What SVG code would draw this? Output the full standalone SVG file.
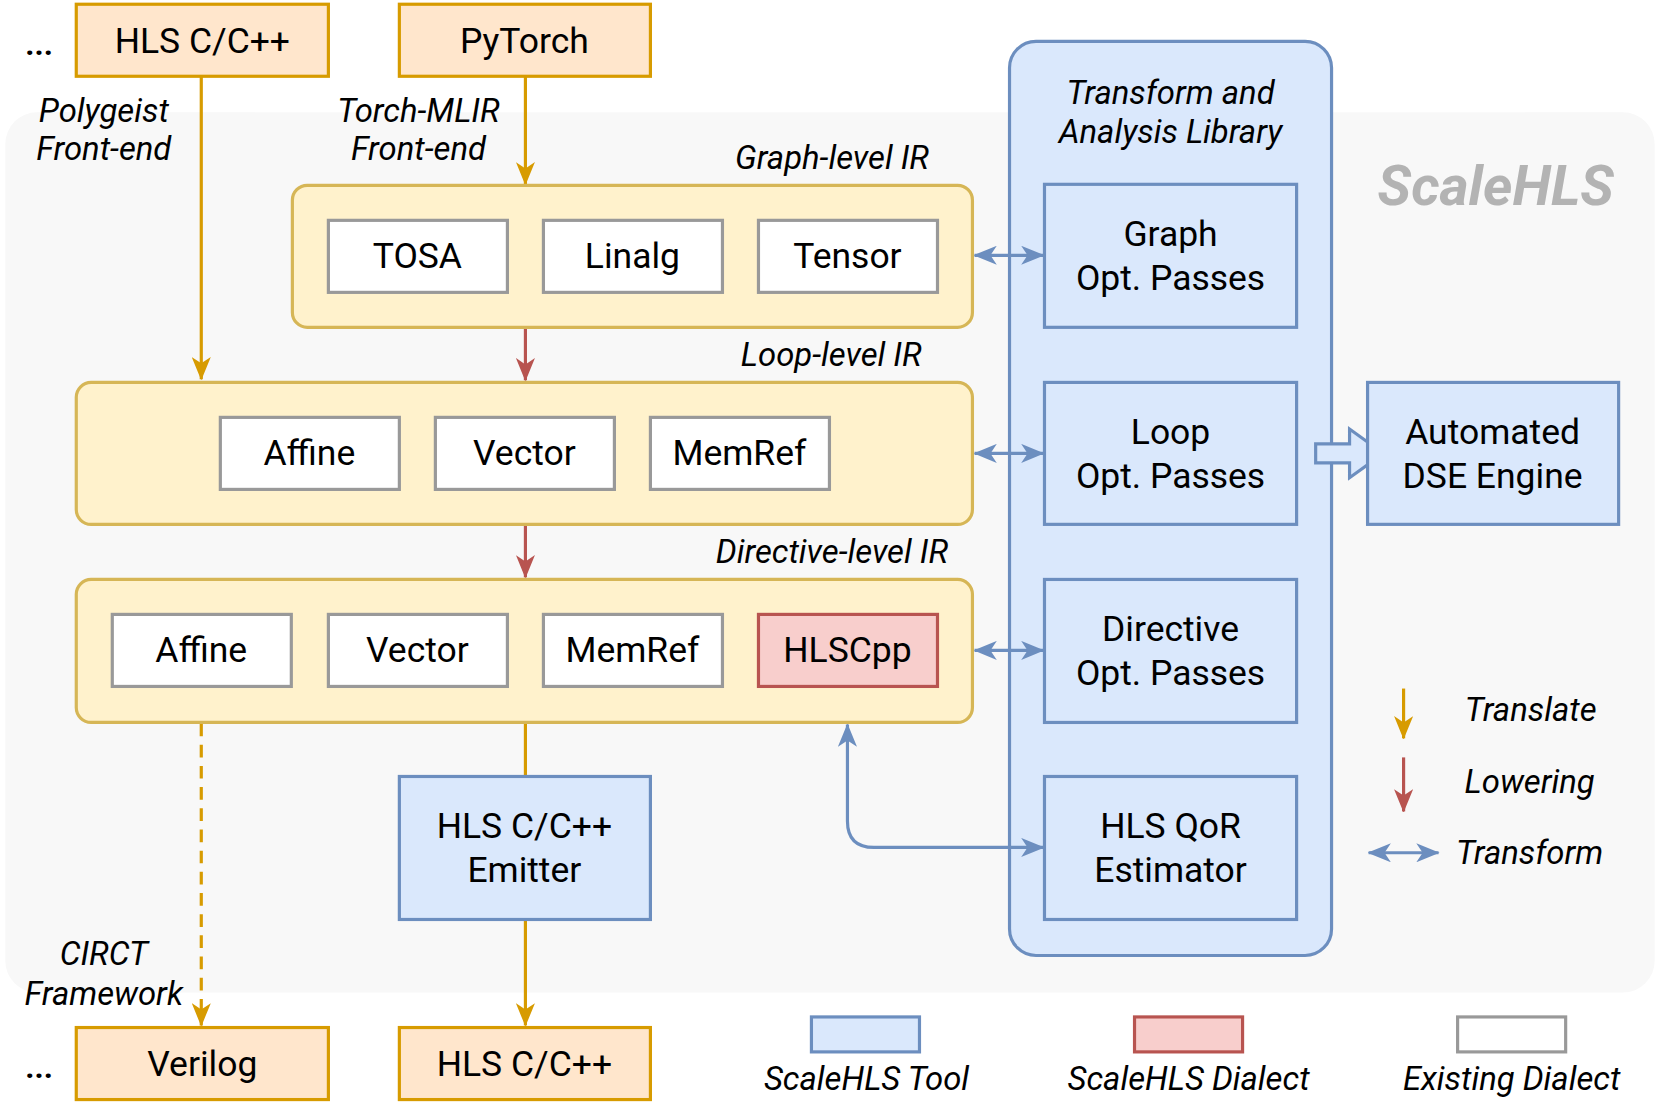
<svg xmlns="http://www.w3.org/2000/svg" width="1661" height="1112" viewBox="0 0 1661 1112">
<style>
text{font-family:Roboto,"Liberation Sans",Arial,sans-serif;fill:#000;text-anchor:middle;dominant-baseline:central}
.t{font-size:33.5px}
.i{font-size:31px;font-style:italic}
.d{font-size:30px;font-weight:bold}
.ext{fill:#ffe6cc;stroke:#d79b00;stroke-width:3}
.ir{fill:#fff2cc;stroke:#d6b656;stroke-width:3}
.ex{fill:#fff;stroke:#999;stroke-width:3}
.sd{fill:#f8cecc;stroke:#b85450;stroke-width:3}
.tool{fill:#dae8fc;stroke:#6c8ebf;stroke-width:3}
.or{stroke:#d79b00;stroke-width:3;fill:none}
.rd{stroke:#b85450;stroke-width:3;fill:none}
.bl{stroke:#6c8ebf;stroke-width:3;fill:none}
</style>
<defs>
<marker id="ao" viewBox="0 0 22 18" refX="21" refY="9" markerWidth="22" markerHeight="18" markerUnits="userSpaceOnUse" orient="auto-start-reverse"><path d="M0,0 L22,9 L0,18 L6,9 Z" fill="#d79b00"/></marker>
<marker id="ar" viewBox="0 0 22 18" refX="21" refY="9" markerWidth="22" markerHeight="18" markerUnits="userSpaceOnUse" orient="auto-start-reverse"><path d="M0,0 L22,9 L0,18 L6,9 Z" fill="#b85450"/></marker>
<marker id="ab" viewBox="0 0 22 18" refX="21" refY="9" markerWidth="22" markerHeight="18" markerUnits="userSpaceOnUse" orient="auto-start-reverse"><path d="M0,0 L22,9 L0,18 L6,9 Z" fill="#6c8ebf"/></marker>
</defs>
<g transform="scale(1.05931)">
<rect id="scalehls-bg" x="5" y="106" width="1557" height="831" rx="30" fill="#f8f8f8"/>
<text x="1412" y="176" style="font-size:53px;font-style:italic;font-weight:bold;fill:#b3b3b3">ScaleHLS</text>

<g id="library">
<rect x="953" y="39" width="304" height="863" rx="25" class="tool"/>
<text x="1105" y="88" class="i">Transform and</text>
<text x="1105" y="125" class="i">Analysis Library</text>
</g>

<g id="connectors">
<path d="M190,72 V358" class="or" marker-end="url(#ao)"/>
<path d="M496,72 V174" class="or" marker-end="url(#ao)"/>
<path d="M496,309 V359" class="rd" marker-end="url(#ar)"/>
<path d="M496,495 V545" class="rd" marker-end="url(#ar)"/>
<path d="M496,682 V733" class="or"/>
<path d="M496,868 V968" class="or" marker-end="url(#ao)"/>
<path d="M190,683 V968" class="or" stroke-dasharray="12,8" marker-end="url(#ao)"/>
<path d="M920,241 H985" class="bl" marker-start="url(#ab)" marker-end="url(#ab)"/>
<path d="M920,428 H985" class="bl" marker-start="url(#ab)" marker-end="url(#ab)"/>
<path d="M920,614 H985" class="bl" marker-start="url(#ab)" marker-end="url(#ab)"/>
<path d="M800,684 V775 Q800,800 825,800 H985" class="bl" marker-start="url(#ab)" marker-end="url(#ab)"/>
<path d="M1242,419 H1274 V405 L1306,428 L1274,451 V437 H1242 Z" class="tool"/>
</g>

<text x="37" y="42" class="d">...</text>
<g id="src-hls"><rect x="72" y="4" width="238" height="68" class="ext"/><text x="191" y="39" class="t">HLS C/C++</text></g>
<g id="src-pytorch"><rect x="377" y="4" width="237" height="68" class="ext"/><text x="495" y="39" class="t">PyTorch</text></g>
<text x="98" y="105" class="i">Polygeist</text>
<text x="98" y="141" class="i">Front-end</text>
<text x="395" y="105" class="i">Torch-MLIR</text>
<text x="395" y="141" class="i">Front-end</text>

<text x="877" y="149" class="i" style="text-anchor:end">Graph-level IR</text>
<g id="graph-ir">
<rect x="276" y="175" width="642" height="134" rx="14" class="ir"/>
<rect x="310" y="208" width="169" height="68" class="ex"/><text x="394" y="242" class="t">TOSA</text>
<rect x="513" y="208" width="169" height="68" class="ex"/><text x="597" y="242" class="t">Linalg</text>
<rect x="716" y="208" width="169" height="68" class="ex"/><text x="800" y="242" class="t">Tensor</text>
</g>

<text x="870" y="335" class="i" style="text-anchor:end">Loop-level IR</text>
<g id="loop-ir">
<rect x="72" y="361" width="846" height="134" rx="14" class="ir"/>
<rect x="208" y="394" width="169" height="68" class="ex"/><text x="292" y="428" class="t">Affine</text>
<rect x="411" y="394" width="169" height="68" class="ex"/><text x="495" y="428" class="t">Vector</text>
<rect x="614" y="394" width="169" height="68" class="ex"/><text x="698" y="428" class="t">MemRef</text>
</g>

<text x="895" y="521" class="i" style="text-anchor:end">Directive-level IR</text>
<g id="directive-ir">
<rect x="72" y="547" width="846" height="135" rx="14" class="ir"/>
<rect x="106" y="580" width="169" height="68" class="ex"/><text x="190" y="614" class="t">Affine</text>
<rect x="310" y="580" width="169" height="68" class="ex"/><text x="394" y="614" class="t">Vector</text>
<rect x="513" y="580" width="169" height="68" class="ex"/><text x="597" y="614" class="t">MemRef</text>
<rect x="716" y="580" width="169" height="68" class="sd"/><text x="800" y="614" class="t">HLSCpp</text>
</g>

<g id="emitter"><rect x="377" y="733" width="237" height="135" class="tool"/><text x="495" y="780" class="t">HLS C/C++</text><text x="495" y="821" class="t">Emitter</text></g>

<text x="98" y="901" class="i">CIRCT</text>
<text x="98" y="938" class="i">Framework</text>
<text x="37" y="1008" class="d">...</text>
<g id="out-verilog"><rect x="72" y="970" width="238" height="68" class="ext"/><text x="191" y="1004" class="t">Verilog</text></g>
<g id="out-hls"><rect x="377" y="970" width="237" height="68" class="ext"/><text x="495" y="1004" class="t">HLS C/C++</text></g>

<g id="graph-opt"><rect x="986" y="174" width="238" height="135" class="tool"/><text x="1105" y="221" class="t">Graph</text><text x="1105" y="262" class="t">Opt. Passes</text></g>
<g id="loop-opt"><rect x="986" y="361" width="238" height="134" class="tool"/><text x="1105" y="408" class="t">Loop</text><text x="1105" y="449" class="t">Opt. Passes</text></g>
<g id="directive-opt"><rect x="986" y="547" width="238" height="135" class="tool"/><text x="1105" y="594" class="t">Directive</text><text x="1105" y="635" class="t">Opt. Passes</text></g>
<g id="qor"><rect x="986" y="733" width="238" height="135" class="tool"/><text x="1105" y="780" class="t">HLS QoR</text><text x="1105" y="821" class="t">Estimator</text></g>
<g id="dse"><rect x="1291" y="361" width="237" height="134" class="tool"/><text x="1409" y="408" class="t">Automated</text><text x="1409" y="449" class="t">DSE Engine</text></g>

<g id="legend">
<path d="M1325,650 V697" class="or" marker-end="url(#ao)"/>
<text x="1445" y="670" class="i">Translate</text>
<path d="M1325,715 V766" class="rd" marker-end="url(#ar)"/>
<text x="1444" y="738" class="i">Lowering</text>
<path d="M1292,805 H1358" class="bl" marker-start="url(#ab)" marker-end="url(#ab)"/>
<text x="1444" y="805" class="i">Transform</text>
<rect x="766" y="960" width="102" height="33" class="tool"/>
<text x="818" y="1019" class="i">ScaleHLS Tool</text>
<rect x="1071" y="960" width="102" height="33" class="sd"/>
<text x="1122" y="1019" class="i">ScaleHLS Dialect</text>
<rect x="1376" y="960" width="102" height="33" class="ex"/>
<text x="1427" y="1019" class="i">Existing Dialect</text>
</g>
</g>
</svg>
